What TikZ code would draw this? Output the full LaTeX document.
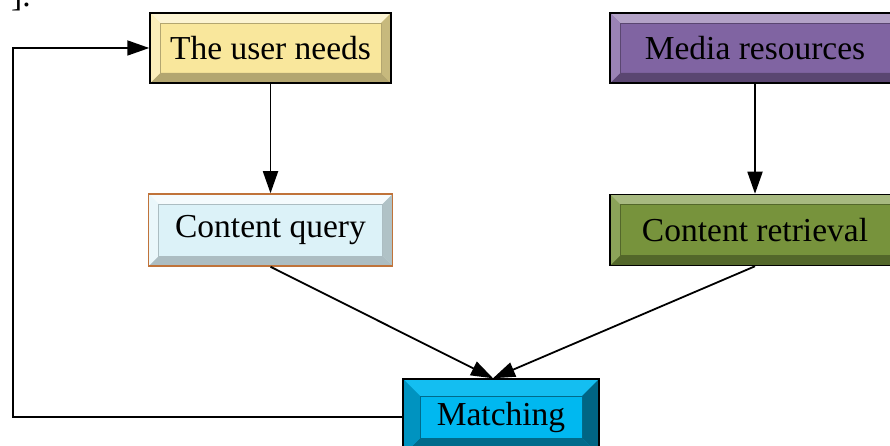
\documentclass[tikz,border=0pt]{standalone}
\usepackage{fontspec}
\setmainfont{Liberation Serif}
\usetikzlibrary{arrows.meta,calc}

\definecolor{needsface}{HTML}{F9E79C}
\definecolor{queryface}{HTML}{DCF2F8}
\definecolor{queryedge}{HTML}{C0733A}
\definecolor{mediaface}{HTML}{8064A2}
\definecolor{retrface}{HTML}{77933C}
\definecolor{matchface}{HTML}{00B8F0}

\begin{document}
\begin{tikzpicture}[x=1pt, y=1pt,
        bevel top/.code={\colorlet{bvtop}{#1}},
        bevel left/.code={\colorlet{bvleft}{#1}},
        bevel right/.code={\colorlet{bvright}{#1}},
        bevel bottom/.code={\colorlet{bvbot}{#1}},
        bevel size/.store in=\bvsize,
        bevel rim/.store in=\bvrim,
        bevelnode/.style={rectangle, draw=black, line width=1.5pt, inner sep=0pt,
            font=\fontsize{33.5}{40}\selectfont, bevel size=10pt, bevel rim=0.6pt,
            path picture={
                \fill[bvtop] let \p1=(path picture bounding box.south west), \p2=(path picture bounding box.north east) in
                    (\x1,\y2) -- (\x2,\y2) -- (\x2-\bvsize,\y2-\bvsize) -- (\x1+\bvsize,\y2-\bvsize) -- cycle;
                \fill[bvbot] let \p1=(path picture bounding box.south west), \p2=(path picture bounding box.north east) in
                    (\x1,\y1) -- (\x2,\y1) -- (\x2-\bvsize,\y1+\bvsize) -- (\x1+\bvsize,\y1+\bvsize) -- cycle;
                \fill[bvleft] let \p1=(path picture bounding box.south west), \p2=(path picture bounding box.north east) in
                    (\x1,\y1) -- (\x1,\y2) -- (\x1+\bvsize,\y2-\bvsize) -- (\x1+\bvsize,\y1+\bvsize) -- cycle;
                \fill[bvright] let \p1=(path picture bounding box.south west), \p2=(path picture bounding box.north east) in
                    (\x2,\y1) -- (\x2,\y2) -- (\x2-\bvsize,\y2-\bvsize) -- (\x2-\bvsize,\y1+\bvsize) -- cycle;
                \draw[bvbot, line width=\bvrim] let \p1=(path picture bounding box.south west), \p2=(path picture bounding box.north east) in
                    (\x1+\bvsize,\y1+\bvsize) rectangle (\x2-\bvsize,\y2-\bvsize);
            }},
        flow/.style={-{Triangle[length=22pt,width=15pt]}, line width=1.8pt},
    ]
        \useasboundingbox (0,0) rectangle (890,445);

        %Nodes
        \node[bevelnode, fill=needsface, minimum width=241pt, minimum height=70pt,
            bevel top=needsface!45!white, bevel left=needsface!70!white,
            bevel right=needsface!80!black, bevel bottom=needsface!72!black] (needs) at (270.5,397) {The user needs};
        \node[bevelnode, fill=mediaface, minimum width=290pt, minimum height=70pt,
            bevel top=mediaface!60!white, bevel left=mediaface!80!white,
            bevel right=mediaface!80!black, bevel bottom=mediaface!70!black] (media) at (755,397) {Media resources};

        \node[bevelnode, draw=queryedge, fill=queryface, minimum width=244pt, minimum height=72pt,
            bevel top=queryface!30!white, bevel left=queryface!60!white,
            bevel right=queryface!80!black, bevel bottom=queryface!78!black] (query) at (270.5,215) {Content query};
        \node[bevelnode, fill=retrface, minimum width=290pt, minimum height=71pt,
            bevel top=retrface!65!white, bevel left=retrface!85!white,
            bevel right=retrface!80!black, bevel bottom=retrface!70!black] (retrieval) at (755,215) {Content retrieval};

        \node[bevelnode, fill=matchface, minimum width=196pt, minimum height=76pt, bevel size=17pt, bevel rim=0pt,
            bevel top=matchface!92!white, bevel left=matchface!80!black,
            bevel right=matchface!55!black, bevel bottom=matchface!58!black] (match) at (501,28) {Matching};

        \node[anchor=base west, font=\fontsize{33.5}{40}\selectfont, inner sep=0pt] (tail) at (11,438) {].};

        \coordinate (mtop) at ([xshift=-8pt]match.north);
        \coordinate (loopx) at (13,0);

        %Lines
        \draw[flow] (needs) -- (query);
        \draw[flow] (media) -- (retrieval);
        \draw[flow] (query.south) -- (mtop);
        \draw[flow] (retrieval.south) -- (mtop);
        \draw[flow] (match.west) -- (match.west -| loopx) |- (needs.west);
    \end{tikzpicture}
\end{document}
